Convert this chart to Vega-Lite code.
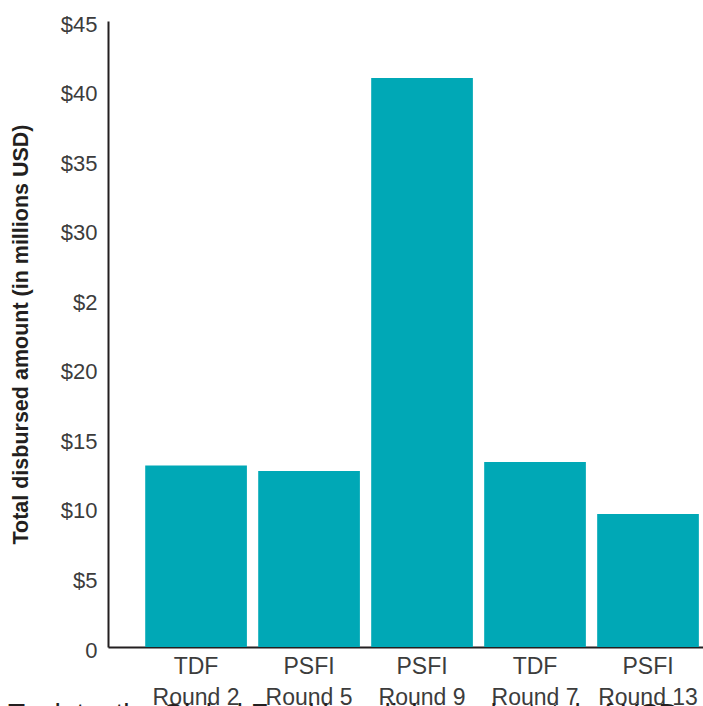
{
  "$schema": "https://vega.github.io/schema/vega-lite/v6.json",
  "autosize": "none",
  "width": 595,
  "height": 626,
  "padding": {"left": 108, "top": 21, "right": 0, "bottom": 59},
  "background": "white",
  "title": {
    "text": "To date, the Global Fund has disbursed a total of USD",
    "orient": "bottom",
    "anchor": "start",
    "frame": "group",
    "dx": -100,
    "offset": -8,
    "baseline": "top",
    "font": "Liberation Sans",
    "fontSize": 28,
    "fontWeight": "normal",
    "color": "#231f20"
  },
  "data": {
    "values": [
      {"program": "TDF Round 2", "amount": 13.05},
      {"program": "PSFI Round 5", "amount": 12.65},
      {"program": "PSFI Round 9", "amount": 40.9},
      {"program": "TDF Round 7", "amount": 13.3},
      {"program": "PSFI Round 13", "amount": 9.56}
    ]
  },
  "mark": {"type": "bar", "color": "#00a8b6"},
  "encoding": {
    "x": {
      "field": "program",
      "type": "nominal",
      "sort": null,
      "scale": {"paddingInner": 0.1, "paddingOuter": 0.183, "align": 0.9},
      "axis": {
        "title": null,
        "labelAngle": 0,
        "ticks": false,
        "domainColor": "#231f20",
        "domainWidth": 2,
        "labelPadding": 8,
        "labelFont": "Liberation Sans",
        "labelFontSize": 23,
        "labelColor": "#3c3c3c",
        "labelLineHeight": 31,
        "labelExpr": "[slice(datum.label, 0, indexof(datum.label, ' ')), slice(datum.label, indexof(datum.label, ' ') + 1)]"
      }
    },
    "y": {
      "field": "amount",
      "type": "quantitative",
      "scale": {"domain": [0, 45], "nice": false},
      "axis": {
        "title": "Total disbursed amount (in millions USD)",
        "titleFont": "Liberation Sans",
        "titleFontSize": 21.5,
        "titleFontWeight": "bold",
        "titleColor": "#231f20",
        "titlePadding": 28,
        "values": [0, 5, 10, 15, 20, 25, 30, 35, 40, 45],
        "labelExpr": "datum.value == 0 ? '0' : datum.value == 25 ? '$2' : '$' + datum.value",
        "ticks": false,
        "grid": false,
        "domainColor": "#231f20",
        "domainWidth": 2,
        "labelPadding": 11,
        "labelOffset": 3,
        "labelFont": "Liberation Sans",
        "labelFontSize": 22,
        "labelColor": "#3c3c3c"
      }
    }
  },
  "config": {"view": {"stroke": null}}
}
